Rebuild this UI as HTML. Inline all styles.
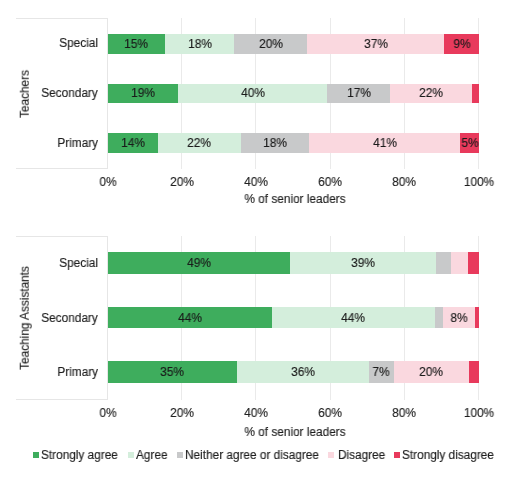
<!DOCTYPE html><html><head><meta charset="utf-8"><style>
html,body{margin:0;padding:0;background:#fff;}
body{width:510px;height:480px;position:relative;overflow:hidden;font-family:"Liberation Sans",sans-serif;font-size:12.5px;color:#1E1E1E;}
.a{position:absolute;}
.t{position:absolute;line-height:12.5px;white-space:nowrap;-webkit-text-stroke:0.15px;will-change:transform;}
</style></head><body>
<div class="a" style="left:16px;top:18px;width:92px;height:1px;background:#E6E6E6"></div>
<div class="a" style="left:16px;top:168px;width:92px;height:1px;background:#E6E6E6"></div>
<div class="a" style="left:107px;top:18px;width:1px;height:151px;background:#E6E6E6"></div>
<div class="a" style="left:181px;top:18px;width:1px;height:151px;background:#EAEAEA"></div>
<div class="a" style="left:255px;top:18px;width:1px;height:151px;background:#EAEAEA"></div>
<div class="a" style="left:330px;top:18px;width:1px;height:151px;background:#EAEAEA"></div>
<div class="a" style="left:404px;top:18px;width:1px;height:151px;background:#EAEAEA"></div>
<div class="a" style="left:478px;top:18px;width:1px;height:151px;background:#EAEAEA"></div>
<div class="a" style="left:107.50px;top:34.00px;width:57.88px;height:20.00px;background:#3EAD5D"></div>
<div class="t" style="left:136.44px;top:37.62px;transform:translateX(-50%) scaleX(0.945);color:#1a1a1a;">15%</div>
<div class="a" style="left:165.38px;top:34.00px;width:68.64px;height:20.00px;background:#D4EEDC"></div>
<div class="t" style="left:199.69px;top:37.62px;transform:translateX(-50%) scaleX(0.945);color:#1a1a1a;">18%</div>
<div class="a" style="left:234.01px;top:34.00px;width:73.46px;height:20.00px;background:#C8C9CA"></div>
<div class="t" style="left:270.74px;top:37.62px;transform:translateX(-50%) scaleX(0.945);color:#1a1a1a;">20%</div>
<div class="a" style="left:307.47px;top:34.00px;width:136.53px;height:20.00px;background:#FAD8DF"></div>
<div class="t" style="left:375.73px;top:37.62px;transform:translateX(-50%) scaleX(0.945);color:#1a1a1a;">37%</div>
<div class="a" style="left:444.00px;top:34.00px;width:35.00px;height:20.00px;background:#E83A5C"></div>
<div class="t" style="left:461.50px;top:37.62px;transform:translateX(-50%) scaleX(0.945);color:#1a1a1a;">9%</div>
<div class="t" style="right:412.00px;top:36.62px;transform-origin:100% 50%;transform:scaleX(0.945);">Special</div>
<div class="a" style="left:107.50px;top:84.00px;width:70.49px;height:19.00px;background:#3EAD5D"></div>
<div class="t" style="left:142.75px;top:86.62px;transform:translateX(-50%) scaleX(0.945);color:#1a1a1a;">19%</div>
<div class="a" style="left:177.99px;top:84.00px;width:149.14px;height:19.00px;background:#D4EEDC"></div>
<div class="t" style="left:252.56px;top:86.62px;transform:translateX(-50%) scaleX(0.945);color:#1a1a1a;">40%</div>
<div class="a" style="left:327.13px;top:84.00px;width:63.07px;height:19.00px;background:#C8C9CA"></div>
<div class="t" style="left:358.67px;top:86.62px;transform:translateX(-50%) scaleX(0.945);color:#1a1a1a;">17%</div>
<div class="a" style="left:390.20px;top:84.00px;width:81.62px;height:19.00px;background:#FAD8DF"></div>
<div class="t" style="left:431.01px;top:86.62px;transform:translateX(-50%) scaleX(0.945);color:#1a1a1a;">22%</div>
<div class="a" style="left:471.82px;top:84.00px;width:7.18px;height:19.00px;background:#E83A5C"></div>
<div class="t" style="right:412.00px;top:86.62px;transform-origin:100% 50%;transform:scaleX(0.945);">Secondary</div>
<div class="a" style="left:107.50px;top:133.00px;width:50.46px;height:20.00px;background:#3EAD5D"></div>
<div class="t" style="left:132.73px;top:136.62px;transform:translateX(-50%) scaleX(0.945);color:#1a1a1a;">14%</div>
<div class="a" style="left:157.96px;top:133.00px;width:82.73px;height:20.00px;background:#D4EEDC"></div>
<div class="t" style="left:199.32px;top:136.62px;transform:translateX(-50%) scaleX(0.945);color:#1a1a1a;">22%</div>
<div class="a" style="left:240.69px;top:133.00px;width:68.26px;height:20.00px;background:#C8C9CA"></div>
<div class="t" style="left:274.82px;top:136.62px;transform:translateX(-50%) scaleX(0.945);color:#1a1a1a;">18%</div>
<div class="a" style="left:308.95px;top:133.00px;width:151.37px;height:20.00px;background:#FAD8DF"></div>
<div class="t" style="left:384.64px;top:136.62px;transform:translateX(-50%) scaleX(0.945);color:#1a1a1a;">41%</div>
<div class="a" style="left:460.32px;top:133.00px;width:18.68px;height:20.00px;background:#E83A5C"></div>
<div class="t" style="left:469.66px;top:136.62px;transform:translateX(-50%) scaleX(0.945);color:#1a1a1a;">5%</div>
<div class="t" style="right:412.00px;top:136.62px;transform-origin:100% 50%;transform:scaleX(0.945);">Primary</div>
<div class="t" style="left:107.50px;top:176.02px;transform:translateX(-50%) scaleX(0.945);">0%</div>
<div class="t" style="left:181.70px;top:176.02px;transform:translateX(-50%) scaleX(0.945);">20%</div>
<div class="t" style="left:255.90px;top:176.02px;transform:translateX(-50%) scaleX(0.945);">40%</div>
<div class="t" style="left:330.10px;top:176.02px;transform:translateX(-50%) scaleX(0.945);">60%</div>
<div class="t" style="left:404.30px;top:176.02px;transform:translateX(-50%) scaleX(0.945);">80%</div>
<div class="t" style="left:478.50px;top:176.02px;transform:translateX(-50%) scaleX(0.945);">100%</div>
<div class="t" style="left:294.80px;top:192.92px;transform:translateX(-50%) scaleX(0.945);">% of senior leaders</div>
<div class="t" style="left:24.5px;top:93.60px;transform:translate(-50%,-50%) rotate(-90deg) scaleX(0.945);">Teachers</div>
<div class="a" style="left:16px;top:236px;width:92px;height:1px;background:#E6E6E6"></div>
<div class="a" style="left:16px;top:399px;width:92px;height:1px;background:#E6E6E6"></div>
<div class="a" style="left:107px;top:236px;width:1px;height:164px;background:#E6E6E6"></div>
<div class="a" style="left:181px;top:236px;width:1px;height:164px;background:#EAEAEA"></div>
<div class="a" style="left:255px;top:236px;width:1px;height:164px;background:#EAEAEA"></div>
<div class="a" style="left:330px;top:236px;width:1px;height:164px;background:#EAEAEA"></div>
<div class="a" style="left:404px;top:236px;width:1px;height:164px;background:#EAEAEA"></div>
<div class="a" style="left:478px;top:236px;width:1px;height:164px;background:#EAEAEA"></div>
<div class="a" style="left:107.50px;top:252.40px;width:182.53px;height:21.70px;background:#3EAD5D"></div>
<div class="t" style="left:198.77px;top:256.62px;transform:translateX(-50%) scaleX(0.945);color:#1a1a1a;">49%</div>
<div class="a" style="left:290.03px;top:252.40px;width:145.80px;height:21.70px;background:#D4EEDC"></div>
<div class="t" style="left:362.93px;top:256.62px;transform:translateX(-50%) scaleX(0.945);color:#1a1a1a;">39%</div>
<div class="a" style="left:435.83px;top:252.40px;width:15.58px;height:21.70px;background:#C8C9CA"></div>
<div class="a" style="left:451.42px;top:252.40px;width:16.32px;height:21.70px;background:#FAD8DF"></div>
<div class="a" style="left:467.74px;top:252.40px;width:11.26px;height:21.70px;background:#E83A5C"></div>
<div class="t" style="right:412.00px;top:256.62px;transform-origin:100% 50%;transform:scaleX(0.945);">Special</div>
<div class="a" style="left:107.50px;top:307.00px;width:164.35px;height:21.00px;background:#3EAD5D"></div>
<div class="t" style="left:189.68px;top:311.62px;transform:translateX(-50%) scaleX(0.945);color:#1a1a1a;">44%</div>
<div class="a" style="left:271.85px;top:307.00px;width:163.24px;height:21.00px;background:#D4EEDC"></div>
<div class="t" style="left:353.47px;top:311.62px;transform:translateX(-50%) scaleX(0.945);color:#1a1a1a;">44%</div>
<div class="a" style="left:435.09px;top:307.00px;width:8.16px;height:21.00px;background:#C8C9CA"></div>
<div class="a" style="left:443.25px;top:307.00px;width:31.54px;height:21.00px;background:#FAD8DF"></div>
<div class="t" style="left:459.02px;top:311.62px;transform:translateX(-50%) scaleX(0.945);color:#1a1a1a;">8%</div>
<div class="a" style="left:474.79px;top:307.00px;width:4.21px;height:21.00px;background:#E83A5C"></div>
<div class="t" style="right:412.00px;top:311.62px;transform-origin:100% 50%;transform:scaleX(0.945);">Secondary</div>
<div class="a" style="left:107.50px;top:361.00px;width:129.48px;height:22.00px;background:#3EAD5D"></div>
<div class="t" style="left:172.24px;top:365.62px;transform:translateX(-50%) scaleX(0.945);color:#1a1a1a;">35%</div>
<div class="a" style="left:236.98px;top:361.00px;width:132.08px;height:22.00px;background:#D4EEDC"></div>
<div class="t" style="left:303.02px;top:365.62px;transform:translateX(-50%) scaleX(0.945);color:#1a1a1a;">36%</div>
<div class="a" style="left:369.06px;top:361.00px;width:24.86px;height:22.00px;background:#C8C9CA"></div>
<div class="t" style="left:381.48px;top:365.62px;transform:translateX(-50%) scaleX(0.945);color:#1a1a1a;">7%</div>
<div class="a" style="left:393.91px;top:361.00px;width:74.94px;height:22.00px;background:#FAD8DF"></div>
<div class="t" style="left:431.38px;top:365.62px;transform:translateX(-50%) scaleX(0.945);color:#1a1a1a;">20%</div>
<div class="a" style="left:468.85px;top:361.00px;width:10.15px;height:22.00px;background:#E83A5C"></div>
<div class="t" style="right:412.00px;top:365.62px;transform-origin:100% 50%;transform:scaleX(0.945);">Primary</div>
<div class="t" style="left:107.50px;top:407.42px;transform:translateX(-50%) scaleX(0.945);">0%</div>
<div class="t" style="left:181.70px;top:407.42px;transform:translateX(-50%) scaleX(0.945);">20%</div>
<div class="t" style="left:255.90px;top:407.42px;transform:translateX(-50%) scaleX(0.945);">40%</div>
<div class="t" style="left:330.10px;top:407.42px;transform:translateX(-50%) scaleX(0.945);">60%</div>
<div class="t" style="left:404.30px;top:407.42px;transform:translateX(-50%) scaleX(0.945);">80%</div>
<div class="t" style="left:478.50px;top:407.42px;transform:translateX(-50%) scaleX(0.945);">100%</div>
<div class="t" style="left:294.80px;top:426.22px;transform:translateX(-50%) scaleX(0.945);">% of senior leaders</div>
<div class="t" style="left:24.5px;top:317.50px;transform:translate(-50%,-50%) rotate(-90deg) scaleX(0.945);">Teaching Assistants</div>
<div class="a" style="left:33.0px;top:452px;width:6px;height:6px;background:#3EAD5D"></div>
<div class="t" style="left:40.80px;top:449.22px;transform-origin:0 50%;transform:scaleX(0.945);">Strongly agree</div>
<div class="a" style="left:127.8px;top:452px;width:6px;height:6px;background:#D4EEDC"></div>
<div class="t" style="left:135.70px;top:449.22px;transform-origin:0 50%;transform:scaleX(0.945);">Agree</div>
<div class="a" style="left:177.0px;top:452px;width:6px;height:6px;background:#C8C9CA"></div>
<div class="t" style="left:185.10px;top:449.22px;transform-origin:0 50%;transform:scaleX(0.945);">Neither agree or disagree</div>
<div class="a" style="left:328.2px;top:452px;width:6px;height:6px;background:#FAD8DF"></div>
<div class="t" style="left:337.50px;top:449.22px;transform-origin:0 50%;transform:scaleX(0.945);">Disagree</div>
<div class="a" style="left:393.6px;top:452px;width:6px;height:6px;background:#E83A5C"></div>
<div class="t" style="left:401.60px;top:449.22px;transform-origin:0 50%;transform:scaleX(0.945);">Strongly disagree</div>
</body></html>
